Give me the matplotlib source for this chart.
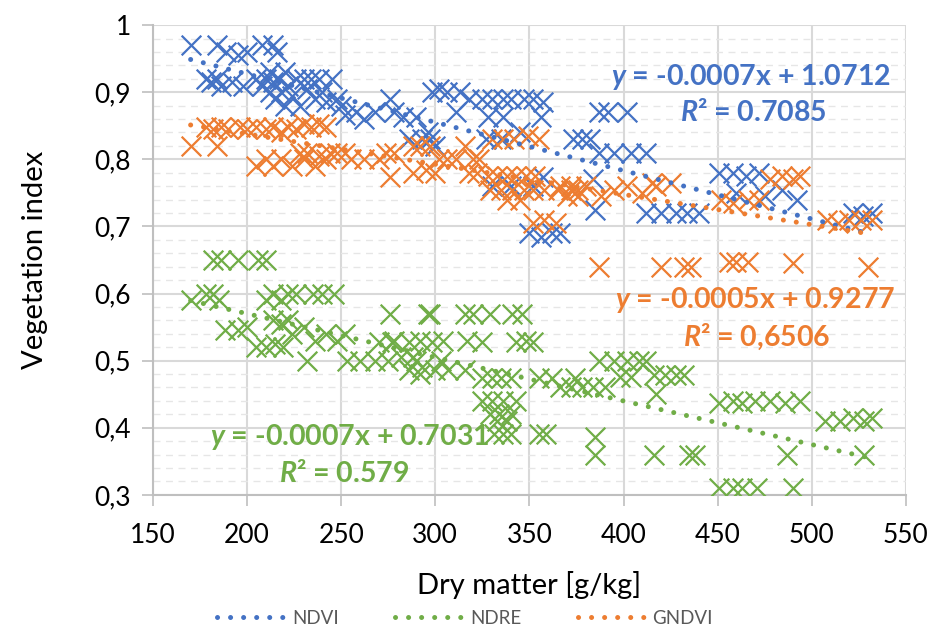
import matplotlib
matplotlib.use("Agg")
import matplotlib.pyplot as plt
import numpy as np
from matplotlib.lines import Line2D
from matplotlib.ticker import MultipleLocator, FuncFormatter

plt.rcParams['font.family'] = ['Lato', 'DejaVu Sans']
plt.rcParams['mathtext.fontset'] = 'custom'
plt.rcParams['mathtext.it'] = 'Lato:italic:bold'
plt.rcParams['mathtext.rm'] = 'Lato:bold'

# ---------------- data ----------------
ndvi_x = [170, 184, 189, 195, 200, 208, 214, 216,
          178, 181, 184, 186, 192, 198, 205, 208, 210, 212, 214, 215, 217, 218, 220, 222,
          224, 226, 228, 230, 232, 234, 236, 238, 240, 242, 245, 248, 250, 212, 220,
          252, 258, 262, 268, 276, 278, 283, 290, 293, 296, 298, 302, 306, 311, 313,
          286, 297, 300, 318, 325, 330, 336, 340, 347, 352, 357, 328, 336, 356,
          327, 335, 345, 357, 330, 340, 352, 350, 356, 362, 366,
          373, 378, 382, 387, 392, 387, 395, 404, 412, 402, 384, 385,
          412, 420, 428, 434, 440, 451, 458, 465, 472, 460, 475, 484, 492, 522, 527, 532]
ndvi_y = [0.97, 0.97, 0.96, 0.955, 0.96, 0.97, 0.97, 0.96,
          0.92, 0.915, 0.92, 0.91, 0.915, 0.91, 0.92, 0.91, 0.92, 0.90, 0.915, 0.89, 0.92, 0.90, 0.88, 0.91,
          0.895, 0.92, 0.88, 0.92, 0.905, 0.92, 0.89, 0.92, 0.90, 0.885, 0.92, 0.89, 0.88, 0.93, 0.93,
          0.866, 0.87, 0.86, 0.87, 0.89, 0.87, 0.863, 0.863, 0.83, 0.84, 0.90, 0.905, 0.90, 0.87, 0.90,
          0.83, 0.83, 0.82, 0.89, 0.89, 0.89, 0.89, 0.89, 0.89, 0.89, 0.885, 0.863, 0.863, 0.863,
          0.83, 0.83, 0.84, 0.773, 0.76, 0.76, 0.76, 0.69, 0.685, 0.69, 0.69,
          0.83, 0.83, 0.83, 0.87, 0.87, 0.81, 0.81, 0.81, 0.81, 0.87, 0.77, 0.725,
          0.72, 0.72, 0.72, 0.72, 0.72, 0.78, 0.78, 0.775, 0.78, 0.75, 0.745, 0.755, 0.74, 0.72, 0.715, 0.72]

gndvi_x = [170, 184, 178, 182, 186, 190, 196, 200, 205, 210, 214, 218, 222, 226, 230, 234, 238, 242,
           205, 210, 214, 218, 224, 230, 236, 242, 228, 232, 238, 244, 248, 252,
           255, 262, 270, 274, 278, 276, 288, 292, 297, 302, 306, 311, 316, 320, 323,
           288, 295, 300, 318, 322, 328, 333, 338, 343, 348, 353, 330, 336, 342, 349, 355,
           329, 335, 341, 347, 352, 338, 345, 358, 365, 372, 376, 352, 358, 364,
           366, 372, 380, 388, 395, 402, 410, 417, 370, 376, 415, 425,
           452, 458, 466, 472, 478, 484, 490, 494, 508, 514, 520, 526, 532,
           387, 420, 432, 436, 456, 460, 466, 490, 530]
gndvi_y = [0.82, 0.82, 0.848, 0.845, 0.848, 0.845, 0.848, 0.845, 0.848, 0.845, 0.848, 0.84, 0.848, 0.845, 0.852, 0.848, 0.852, 0.848,
           0.79, 0.80, 0.79, 0.80, 0.79, 0.80, 0.79, 0.80, 0.81, 0.81, 0.805, 0.81, 0.81, 0.81,
           0.80, 0.80, 0.80, 0.81, 0.81, 0.773, 0.82, 0.82, 0.82, 0.80, 0.80, 0.80, 0.82, 0.80, 0.80,
           0.78, 0.784, 0.78, 0.78, 0.78, 0.775, 0.775, 0.775, 0.775, 0.775, 0.775, 0.83, 0.83, 0.83, 0.835, 0.83,
           0.754, 0.754, 0.754, 0.754, 0.754, 0.74, 0.74, 0.754, 0.754, 0.754, 0.754, 0.705, 0.71, 0.705,
           0.76, 0.76, 0.76, 0.745, 0.755, 0.76, 0.75, 0.76, 0.745, 0.745, 0.765, 0.765,
           0.74, 0.735, 0.74, 0.74, 0.77, 0.775, 0.77, 0.775, 0.71, 0.705, 0.71, 0.71, 0.71,
           0.64, 0.64, 0.64, 0.64, 0.647, 0.647, 0.647, 0.645, 0.64]

ndre_x = [170, 178, 182, 185, 182, 186, 195, 206, 210,
          188, 195, 200, 205, 210, 215, 219, 210, 214, 218, 222, 226, 214, 218, 222,
          235, 240, 246, 224, 230, 236, 242, 248, 252, 232, 253, 260, 268, 275,
          276, 278, 296, 297, 316, 320, 329, 341, 346,
          270, 277, 286, 292, 298, 304, 290, 303, 317, 325, 343, 348, 352,
          282, 288, 293, 300, 286, 292, 307, 316,
          325, 330, 335, 340, 355, 362, 374, 325, 330, 336, 343, 329, 334, 340, 333, 338,
          331, 336, 340, 355, 359,
          366, 372, 378, 384, 390, 387, 395, 402, 408, 412, 398, 404, 416, 422, 428, 432, 417,
          451, 458, 463, 470, 478, 486, 494, 507, 515, 522, 528, 532,
          385, 385, 416, 435, 438, 487, 528, 451, 458, 463, 471, 490]
ndre_y = [0.59, 0.60, 0.60, 0.59, 0.65, 0.65, 0.65, 0.65, 0.65,
          0.545, 0.545, 0.55, 0.52, 0.52, 0.525, 0.52, 0.59, 0.60, 0.59, 0.60, 0.60, 0.56, 0.555, 0.56,
          0.60, 0.60, 0.60, 0.54, 0.55, 0.53, 0.54, 0.53, 0.54, 0.50, 0.50, 0.50, 0.50, 0.50,
          0.57, 0.53, 0.57, 0.57, 0.57, 0.57, 0.57, 0.57, 0.57,
          0.528, 0.528, 0.528, 0.53, 0.528, 0.53, 0.50, 0.50, 0.53, 0.528, 0.528, 0.53, 0.528,
          0.506, 0.506, 0.49, 0.486, 0.486, 0.48, 0.486, 0.486,
          0.474, 0.474, 0.474, 0.474, 0.474, 0.474, 0.474, 0.44, 0.44, 0.44, 0.44, 0.42, 0.42, 0.42, 0.41, 0.41,
          0.39, 0.39, 0.39, 0.39, 0.39,
          0.46, 0.46, 0.46, 0.46, 0.46, 0.50, 0.50, 0.50, 0.50, 0.50, 0.476, 0.476, 0.478, 0.478, 0.478, 0.478, 0.45,
          0.437, 0.44, 0.437, 0.44, 0.44, 0.437, 0.44, 0.41, 0.41, 0.415, 0.41, 0.415,
          0.386, 0.36, 0.36, 0.36, 0.36, 0.36, 0.36, 0.31, 0.31, 0.31, 0.31, 0.31]

# trendlines (slope, intercept, x-range)
series_names = ['NDVI', 'NDRE', 'GNDVI']
trend_slope = [-0.00072, -0.00065, -0.00045]
trend_intercept = [1.0712, 0.700, 0.9277]
trend_xmin = [170, 170, 170]
trend_xmax = [530, 530, 530]
eq_text = [r"$y$ = -0.0007x + 1.0712", r"$y$ = -0.0007x + 0.7031", r"$y$ = -0.0005x + 0.9277"]
r2_text = [r"$R$² = 0.7085", r"$R$² = 0.579", r"$R$² = 0,6506"]

colors = {'NDVI': '#4472C4', 'NDRE': '#70AD47', 'GNDVI': '#ED7D31'}

# ---------------- plot ----------------
fig = plt.figure(figsize=(9.3, 6.28), dpi=100)
ax = fig.add_axes([0.1645, 0.212, 0.8095, 0.748])

ax.set_xlim(150, 550)
ax.set_ylim(0.3, 1.0)
ax.xaxis.set_major_locator(MultipleLocator(50))
ax.yaxis.set_major_locator(MultipleLocator(0.1))
ax.yaxis.set_minor_locator(MultipleLocator(0.02))
ax.yaxis.set_major_formatter(FuncFormatter(lambda v, p: ('%g' % round(v, 2)).replace('.', ',')))

ax.grid(True, which='major', color='#D9D9D9', linewidth=1.5, zorder=0)
ax.grid(True, which='minor', axis='y', color='#E6E6E6', linewidth=1.0, linestyle=(0, (5, 4)), zorder=0)
ax.set_axisbelow(True)
for s in ['top', 'right']:
    ax.spines[s].set_visible(False)
for s in ['left', 'bottom']:
    ax.spines[s].set_color('#BFBFBF')
    ax.spines[s].set_linewidth(1.5)
ax.tick_params(axis='both', which='major', direction='out', length=8, width=1.2, color='#BFBFBF',
               labelsize=19, labelcolor='black', pad=8)
ax.tick_params(axis='x', which='major', pad=12)
ax.tick_params(axis='y', which='minor', length=0)

data = {'NDVI': (ndvi_x, ndvi_y), 'NDRE': (ndre_x, ndre_y), 'GNDVI': (gndvi_x, gndvi_y)}
for name in ['NDVI', 'GNDVI', 'NDRE']:
    x, y = data[name]
    ax.scatter(x, y, marker='x', s=200, linewidths=1.6, color=colors[name], zorder=3)

handles = []
for i, name in enumerate(series_names):
    xs = np.linspace(trend_xmin[i], trend_xmax[i], 50)
    ax.plot(xs, trend_slope[i] * xs + trend_intercept[i], color=colors[name],
            linewidth=3.6, linestyle=(0, (0.01, 2.6)), dash_capstyle='round', zorder=4)
    handles.append(Line2D([0], [0], color=colors[name], linewidth=3.6,
                          linestyle=(0, (0.01, 2.6)), dash_capstyle='round'))

# equations
eq_pos = {'NDVI': ((467.6, 0.9225), (469, 0.870)),
          'NDRE': ((254.6, 0.386), (251.4, 0.332)),
          'GNDVI': ((469.7, 0.590), (470.8, 0.535))}
for i, name in enumerate(series_names):
    (ex, ey), (rx, ry) = eq_pos[name]
    ax.text(ex, ey, eq_text[i], color=colors[name], fontsize=20.5, fontweight='bold',
            ha='center', va='center', zorder=5)
    ax.text(rx, ry, r2_text[i], color=colors[name], fontsize=20.5, fontweight='bold',
            ha='center', va='center', zorder=5)

ax.set_xlabel('Dry matter [g/kg]', fontsize=21, labelpad=17)
ax.set_ylabel('Vegetation index', fontsize=21, labelpad=33)

fig.legend(handles, series_names, loc='lower center', bbox_to_anchor=(0.5, -0.025), ncol=3,
           frameon=False, fontsize=13.5, labelcolor='#595959', handlelength=3.6, columnspacing=3.0,
           handletextpad=0.4)

fig.savefig('out.png', dpi=100)
